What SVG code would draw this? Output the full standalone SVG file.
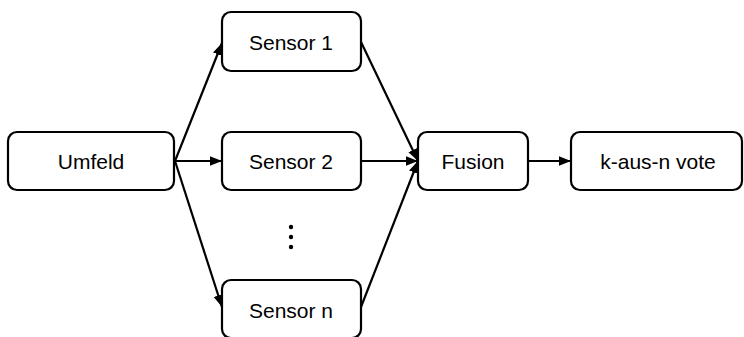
<svg xmlns="http://www.w3.org/2000/svg" width="744" height="337" viewBox="0 0 744 337">
  <style>
    .box { fill: #ffffff; stroke: #000000; stroke-width: 2.2; }
    .label { font-family: "Liberation Sans", Arial, sans-serif; font-size: 21px; fill: #000000; text-anchor: middle; }
    .edge { stroke: #000000; stroke-width: 2.2; fill: none; marker-end: url(#arrow); }
  </style>
  <defs>
    <marker id="arrow" viewBox="0 0 10 10" refX="10" refY="5" markerWidth="5.5" markerHeight="5.5" orient="auto" markerUnits="strokeWidth">
      <path d="M0,1 L10,5 L0,9 z" fill="#000000"/>
    </marker>
  </defs>

  <rect width="744" height="337" fill="#ffffff"/>

  <g id="connectors">
    <line class="edge" x1="175" y1="161" x2="222" y2="43"/>
    <line class="edge" x1="175" y1="161" x2="222" y2="161"/>
    <line class="edge" x1="175" y1="161" x2="222" y2="307"/>
    <line class="edge" x1="361" y1="42" x2="418" y2="161"/>
    <line class="edge" x1="361" y1="161" x2="418" y2="161"/>
    <line class="edge" x1="361" y1="307" x2="418" y2="161"/>
    <line class="edge" x1="528" y1="161" x2="571" y2="161"/>
  </g>

  <g id="umfeld">
    <rect class="box" x="8" y="132" width="166" height="58" rx="9"/>
    <text class="label" x="91" y="169">Umfeld</text>
  </g>

  <g id="sensor1">
    <rect class="box" x="222" y="12" width="139" height="59" rx="9"/>
    <text class="label" x="291" y="50">Sensor 1</text>
  </g>

  <g id="sensor2">
    <rect class="box" x="222" y="132" width="139" height="58" rx="9"/>
    <text class="label" x="291" y="169">Sensor 2</text>
  </g>

  <g id="ellipsis">
    <circle cx="291" cy="227" r="2.2" fill="#000000"/>
    <circle cx="291" cy="237" r="2.2" fill="#000000"/>
    <circle cx="291" cy="247" r="2.2" fill="#000000"/>
  </g>

  <g id="sensorn">
    <rect class="box" x="222" y="280" width="139" height="58" rx="9"/>
    <text class="label" x="291" y="318">Sensor n</text>
  </g>

  <g id="fusion">
    <rect class="box" x="418" y="132" width="110" height="58" rx="9"/>
    <text class="label" x="473" y="169">Fusion</text>
  </g>

  <g id="vote">
    <rect class="box" x="571" y="132" width="171" height="58" rx="9"/>
    <text class="label" x="658" y="169">k-aus-n vote</text>
  </g>
</svg>
